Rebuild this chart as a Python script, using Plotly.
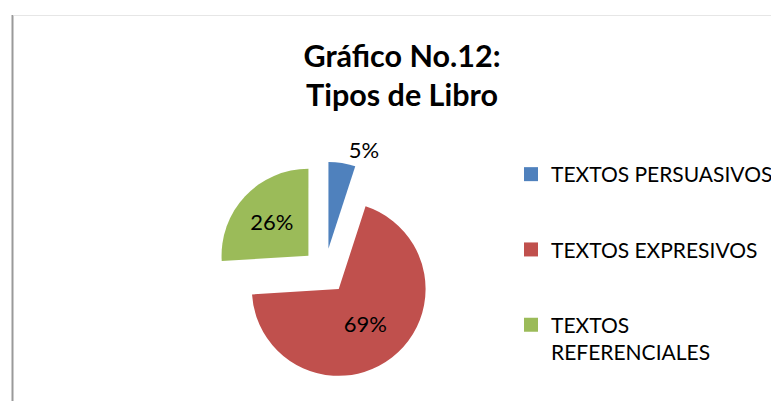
import plotly.graph_objects as go

labels = ["TEXTOS PERSUASIVOS", "TEXTOS EXPRESIVOS", "TEXTOS<br>REFERENCIALES"]
values = [5, 69, 26]
colors = ["#4F81BD", "#C0504D", "#9BBB59"]
text_pos = ["outside", "inside", "inside"]
title_text = "Gráfico No.12:<br>Tipos de Libro"

FONT = "Lato, Calibri, Carlito, sans-serif"
W, H = 771, 393  # page body adds an 8px margin

fig = go.Figure()
fig.add_trace(go.Pie(
    labels=labels,
    values=values,
    sort=False,
    direction="clockwise",
    rotation=0,
    pull=[0.26, 0.26, 0.26],
    marker=dict(colors=colors, line=dict(width=0)),
    textinfo="percent",
    texttemplate="%{percent:.0%}",
    textposition=text_pos,
    insidetextorientation="horizontal",
    textfont=dict(family=FONT, size=22, color="#000000"),
    domain=dict(x=[0.211, 0.611], y=[0.052, 0.609]),
    hoverinfo="label+percent",
    showlegend=False,
))

# legend entries (one per slice, same labels/colours as the pie)
for i, (lab, col) in enumerate(zip(labels, colors)):
    fig.add_trace(go.Scatter(
        x=[None], y=[None], mode="markers", name=lab,
        marker=dict(symbol="square", size=14, color=col),
        legendgroup=f"g{i}", showlegend=True, hoverinfo="skip",
    ))

fig.update_layout(
    width=W, height=H,
    margin=dict(l=0, r=0, t=0, b=0, autoexpand=False),
    paper_bgcolor="white",
    plot_bgcolor="white",
    font=dict(family=FONT, color="#000000"),
    xaxis=dict(visible=False),
    yaxis=dict(visible=False),
    title=dict(text="<b>" + title_text + "</b>", x=394 / W, xanchor="center",
               y=0.851, yanchor="top",
               font=dict(family=FONT, size=30.5, color="#000000")),
    legend=dict(x=503 / W, xanchor="left", y=1 - 146 / H, yanchor="top",
                valign="top", traceorder="grouped", tracegroupgap=45,
                font=dict(family=FONT, size=21, color="#000000"),
                bgcolor="rgba(0,0,0,0)"),
    shapes=[
        dict(type="line", xref="paper", yref="paper", x0=4.5 / W, x1=4.5 / W,
             y0=-0.05, y1=1 - 7 / H, line=dict(color="#9a9a9a", width=2)),
        dict(type="line", xref="paper", yref="paper", x0=5.5 / W, x1=1.02,
             y0=1 - 7.5 / H, y1=1 - 7.5 / H, line=dict(color="#e6e6e6", width=1)),
    ],
)

fig.write_html("out.html")
